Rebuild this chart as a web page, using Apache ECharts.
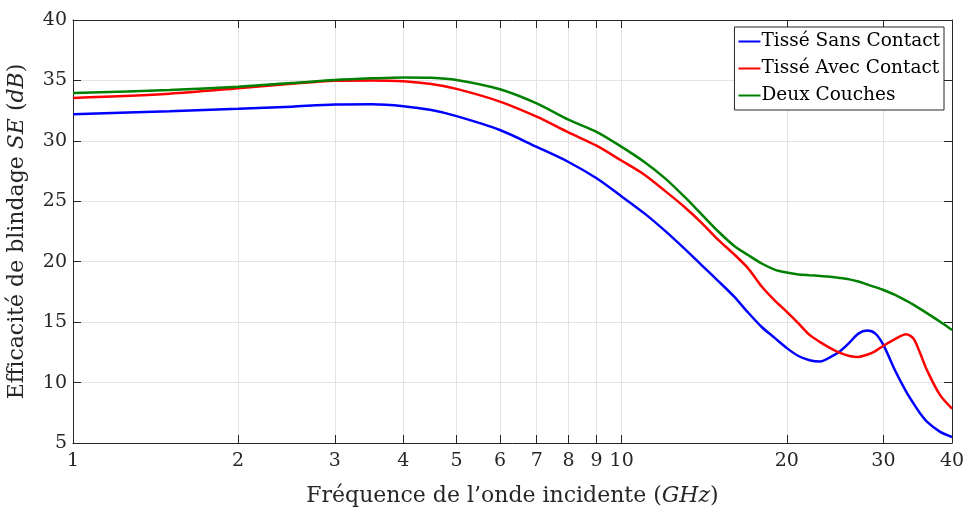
<!DOCTYPE html>
<html>
<head>
<meta charset="utf-8">
<script src="https://cdn.jsdelivr.net/npm/echarts@6/dist/echarts.min.js"></script>
<style>
  html, body { margin: 0; padding: 0; background: #fff; }
  #chart { width: 966px; height: 509px; }
</style>
</head>
<body>
<div id="chart"></div>
<script>
const freq = [1, 1.5, 2, 2.5, 3, 3.5, 4, 4.5, 5, 6, 7, 8, 9, 10, 11, 12, 13, 14, 15, 16, 17, 18, 19, 20,
  21, 22, 23, 24, 25, 26, 27, 28, 29, 30, 31.5, 33, 34, 35, 36, 38, 40];
const sansContact = [32.2, 32.45, 32.65, 32.83, 33.0, 33.02, 32.87, 32.55, 32.05, 30.9, 29.5, 28.25, 26.9, 25.4,
  24.0, 22.55, 21.1, 19.7, 18.4, 17.15, 15.8, 14.6, 13.7, 12.85,
  12.2, 11.85, 11.75, 12.1, 12.6, 13.3, 14.05, 14.3, 14.05, 13.1, 11.0, 9.25, 8.3, 7.45, 6.77, 5.94, 5.5];
const avecContact = [33.55, 33.9, 34.35, 34.72, 34.97, 35.0, 34.93, 34.7, 34.3, 33.25, 32.0, 30.7, 29.6, 28.35,
  27.2, 25.85, 24.55, 23.2, 21.8, 20.65, 19.45, 17.95, 16.8, 15.85,
  14.9, 13.95, 13.35, 12.85, 12.45, 12.2, 12.12, 12.3, 12.6, 13.05, 13.6, 14.0, 13.66, 12.42, 11.04, 9.0, 7.85];
const deuxCouches = [33.95, 34.2, 34.47, 34.78, 35.03, 35.17, 35.25, 35.22, 35.04, 34.27, 33.1, 31.75, 30.75, 29.5,
  28.25, 26.9, 25.4, 23.9, 22.5, 21.35, 20.55, 19.85, 19.35, 19.1,
  18.95, 18.88, 18.82, 18.76, 18.66, 18.54, 18.36, 18.13, 17.9, 17.66, 17.25, 16.78, 16.45, 16.1, 15.75, 15.05, 14.35];
const xTicks = [1, 2, 3, 4, 5, 6, 7, 8, 9, 10, 20, 30, 40];
const seriesNames = ["Tissé Sans Contact", "Tissé Avec Contact", "Deux Couches"];

const chart = echarts.init(document.getElementById("chart"));
const font = "DejaVu Serif";
const axisCol = "#262626";
const gridCol = "#e3e3e3";

function pairs(vals) {
  return freq.map(function (f, i) { return [f, vals[i]]; });
}

function makeLine(name, vals, color) {
  return {
    name: name,
    type: "line",
    data: pairs(vals),
    smooth: 0.3,
    showSymbol: false,
    lineStyle: { width: 2.5, color: color },
    itemStyle: { color: color },
    xAxisIndex: 0,
    yAxisIndex: 0,
    z: 5,
  };
}

chart.setOption({
  animation: false,
  grid: { left: 73, right: 14, top: 20, bottom: 66, outerBoundsMode: "none" },
  legend: {
    orient: "vertical",
    right: 22,
    top: 27,
    icon: "rect",
    itemWidth: 22,
    itemHeight: 2,
    itemGap: 8,
    padding: [5, 4, 5, 4],
    backgroundColor: "#fff",
    borderColor: axisCol,
    borderWidth: 1,
    textStyle: { fontFamily: font, fontSize: 18.5, color: "#000", padding: [0, 0, 0, -4] },
    data: seriesNames,
  },
  xAxis: [
    {
      type: "log",
      min: 1,
      max: 40,
      position: "bottom",
      name: "Fréquence de l’onde incidente ({i|GHz})",
      nameLocation: "middle",
      nameGap: 42,
      nameTextStyle: {
        fontFamily: font, fontSize: 22, color: axisCol,
        rich: { i: { fontFamily: font, fontSize: 22, fontStyle: "italic", color: axisCol } },
      },
      axisLine: { show: true, lineStyle: { color: axisCol, width: 1 } },
      axisTick: { show: true, inside: true, length: 8, customValues: xTicks, lineStyle: { color: axisCol } },
      axisLabel: { customValues: xTicks, fontFamily: font, fontSize: 19, color: axisCol, margin: 9 },
      splitLine: { show: true, lineStyle: { color: gridCol, width: 1 } },
      minorTick: { show: false },
    },
    {
      type: "log",
      min: 1,
      max: 40,
      position: "top",
      axisLine: { show: true, lineStyle: { color: axisCol, width: 1 } },
      axisTick: { show: true, inside: true, length: 8, customValues: xTicks, lineStyle: { color: axisCol } },
      axisLabel: { show: false, customValues: xTicks },
      splitLine: { show: false },
    },
  ],
  yAxis: [
    {
      type: "value",
      min: 5,
      max: 40,
      interval: 5,
      position: "left",
      name: "Efficacité de blindage {i|SE} ({i|dB})",
      nameLocation: "middle",
      nameGap: 45,
      nameTextStyle: {
        fontFamily: font, fontSize: 22, color: axisCol,
        rich: { i: { fontFamily: font, fontSize: 22, fontStyle: "italic", color: axisCol } },
      },
      axisLine: { show: true, lineStyle: { color: axisCol, width: 1 } },
      axisTick: { show: true, inside: true, length: 8, lineStyle: { color: axisCol } },
      axisLabel: { fontFamily: font, fontSize: 19, color: axisCol, margin: 6 },
      splitLine: { show: true, lineStyle: { color: gridCol, width: 1 } },
    },
    {
      type: "value",
      min: 5,
      max: 40,
      interval: 5,
      position: "right",
      axisLine: { show: true, lineStyle: { color: axisCol, width: 1 } },
      axisTick: { show: true, inside: true, length: 8, lineStyle: { color: axisCol } },
      axisLabel: { show: false },
      splitLine: { show: false },
    },
  ],
  series: [
    makeLine(seriesNames[0], sansContact, "#0000ff"),
    makeLine(seriesNames[1], avecContact, "#ff0000"),
    makeLine(seriesNames[2], deuxCouches, "#008000"),
  ],
});
</script>
</body>
</html>
